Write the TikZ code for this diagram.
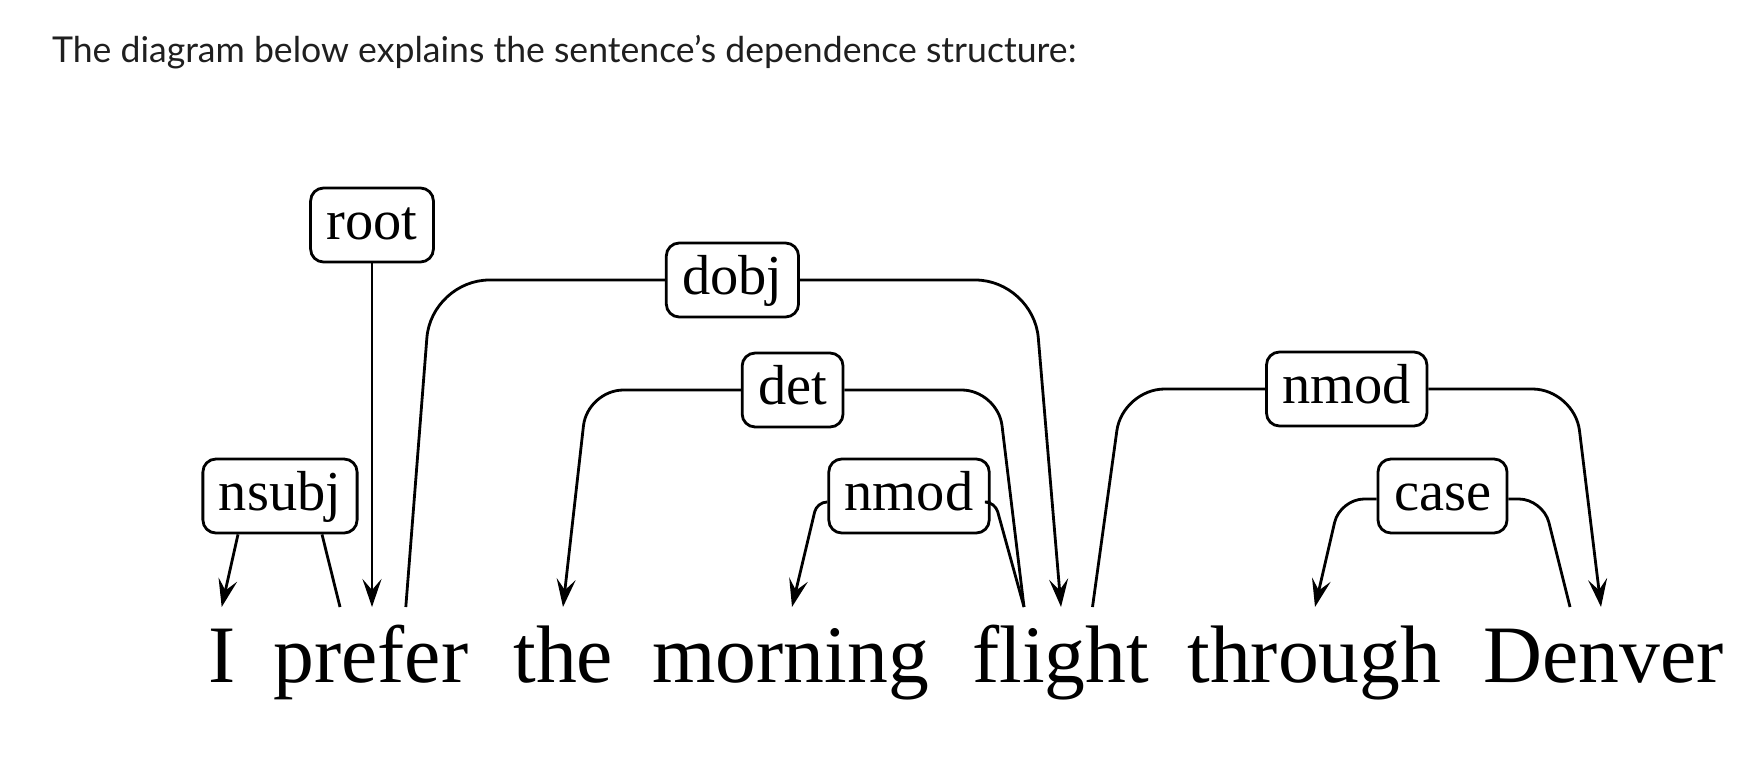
\documentclass[tikz,border=0pt]{standalone}
\usepackage{fontspec}
\setmainfont{Liberation Serif}
\newfontfamily\headfont{Lato}
\usetikzlibrary{arrows.meta}

\begin{document}
\begin{tikzpicture}[x = 0.5pt, y = -0.5pt]
\useasboundingbox (0,0) rectangle (1748,760);
\tikzstyle{WordStyle}=[anchor = base west,
                       inner sep = 0pt,
                       font = \fontsize{40.8}{45}\selectfont]
\tikzstyle{LabelStyle}=[draw, line width = 1.4pt,
                        rounded corners = 6.5pt,
                        minimum height = 37pt,
                        inner xsep = 8pt, inner ysep = 0pt,
                        text height = 20.3pt, text depth = 5.6pt,
                        font = \fontsize{28.2}{30}\selectfont]
\tikzstyle{ArrowStyle}=[-{Stealth[length = 14pt, width = 9.5pt, inset = 5.5pt]}]
\node[anchor = base west, inner sep = 0pt, text = black!88,
      font = \headfont\fontsize{17.8}{20}\selectfont] (h) at (51.7, 62.3)
      {The diagram below explains the sentence’s dependence structure:};
% words
\node[WordStyle] (v0) at (208.5, 682) {I};
\node[WordStyle] (v1) at (273, 682) {prefer};
\node[WordStyle] (v2) at (513, 682) {the};
\node[WordStyle] (v3) at (652, 682) {morning};
\node[WordStyle] (v4) at (972, 682) {flight};
\node[WordStyle] (v5) at (1187, 682) {through};
\node[WordStyle] (v6) at (1483, 682) {Denver};
% ends of the arcs above the words
\coordinate (a0) at (221.7, 607);
\coordinate (a1) at (340, 607);
\coordinate (a2) at (372, 607);
\coordinate (a3) at (405.8, 607);
\coordinate (a4) at (563, 607);
\coordinate (a5) at (792, 607);
\coordinate (a6) at (1024, 607);
\coordinate (a7) at (1061, 607);
\coordinate (a8) at (1092.5, 607);
\coordinate (a9) at (1315, 607);
\coordinate (a10) at (1570, 607);
\coordinate (a11) at (1601, 607);
% labels
\node[LabelStyle] (l0) at (280, 496) {nsubj};
\node[LabelStyle] (l1) at (372, 225) {root};
\node[LabelStyle] (l2) at (732.4, 280) {dobj};
\node[LabelStyle] (l3) at (792.6, 390) {det};
\node[LabelStyle] (l4) at (909, 496) {nmod};
\node[LabelStyle] (l5) at (1346.7, 389) {nmod};
\node[LabelStyle] (l6) at (1442.5, 496) {case};
% arcs
\tikzstyle{EdgeStyle}=[line width = 1.4pt]
\draw[EdgeStyle, ArrowStyle] ([xshift = -21pt]l0.south) -- (a0);
\draw[EdgeStyle] ([xshift = 21pt]l0.south) -- (a1);
\tikzstyle{EdgeStyle}=[line width = 1.4pt]
\draw[EdgeStyle, ArrowStyle] (l1.south) -- (a2);
\tikzstyle{EdgeStyle}=[line width = 1.4pt, rounded corners = 29pt]
\draw[EdgeStyle] (l2.west) -- (431.4, 280) -- (a3);
\draw[EdgeStyle, ArrowStyle] (l2.east) -- (1033.4, 280) -- (a7);
\tikzstyle{EdgeStyle}=[line width = 1.4pt, rounded corners = 18pt]
\draw[EdgeStyle, ArrowStyle] (l3.west) -- (587.5, 390) -- (a4);
\draw[EdgeStyle] (l3.east) -- (997.7, 390) -- (a6);
\tikzstyle{EdgeStyle}=[line width = 1.4pt, rounded corners = 5pt]
\draw[EdgeStyle, ArrowStyle] ([yshift = -3pt]l4.west) -- (817, 502) -- (a5);
\draw[EdgeStyle] ([yshift = -3pt]l4.east) -- (995, 502) -- (a6);
\tikzstyle{EdgeStyle}=[line width = 1.4pt, rounded corners = 21pt]
\draw[EdgeStyle] (l5.west) -- (1122.6, 389) -- (a8);
\draw[EdgeStyle, ArrowStyle] (l5.east) -- (1574.4, 389) -- (a11);
\tikzstyle{EdgeStyle}=[line width = 1.4pt, rounded corners = 12pt]
\draw[EdgeStyle, ArrowStyle] ([yshift = -1.5pt]l6.west) -- (1340, 499) -- (a9);
\draw[EdgeStyle] ([yshift = -1.5pt]l6.east) -- (1543, 499) -- (a10);
\end{tikzpicture}
\end{document}
